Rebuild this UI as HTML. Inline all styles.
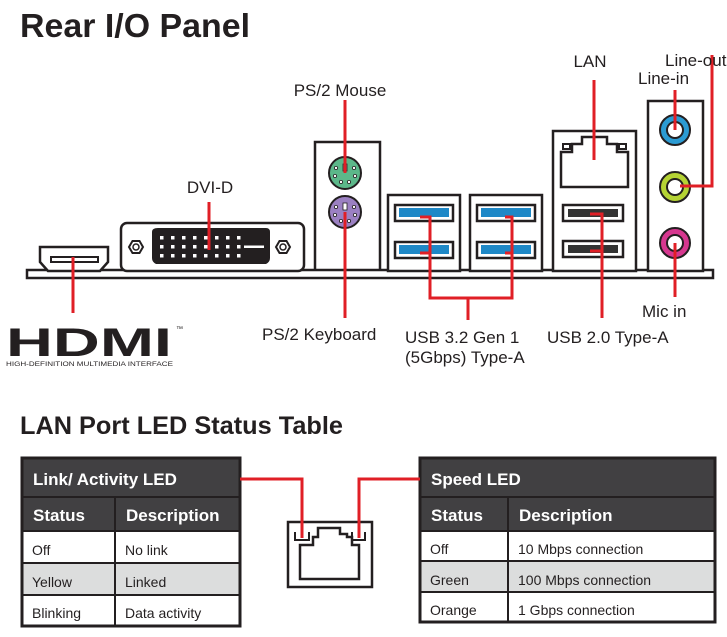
<!DOCTYPE html>
<html><head><meta charset="utf-8"><style>
html,body{margin:0;padding:0;background:#fff;}
svg{display:block;font-family:"Liberation Sans",sans-serif;}
</style></head><body>
<svg width="727" height="637" viewBox="0 0 727 637" xmlns="http://www.w3.org/2000/svg">
<text x="20" y="37" font-size="33" font-weight="bold" fill="#231f20" textLength="230" lengthAdjust="spacingAndGlyphs">Rear I/O Panel</text>

<rect x="27" y="270" width="686" height="8" fill="#fff" stroke="#231f20" stroke-width="2.5"/>

<path d="M40,247 H108 V262 L100,271 H48 L40,262 Z" fill="#fff" stroke="#231f20" stroke-width="2.5"/>
<rect x="51" y="257" width="47" height="5" fill="#fff" stroke="#231f20" stroke-width="2"/>
<line x1="73" y1="257" x2="73" y2="313" stroke="#e01f26" stroke-width="3"/>
<text x="6" y="356" font-size="40" font-weight="bold" fill="#231f20" textLength="166" lengthAdjust="spacingAndGlyphs">HDMI</text>
<text x="176" y="331" font-size="7" fill="#231f20">™</text>
<text x="6" y="366" font-size="6.3" fill="#231f20" textLength="167" lengthAdjust="spacingAndGlyphs">HIGH-DEFINITION MULTIMEDIA INTERFACE</text>

<rect x="121" y="223" width="183" height="48" rx="6" fill="#fff" stroke="#231f20" stroke-width="2.5"/>
<path d="M158,228 H266 Q270,228 270,232 V258 Q270,262 266,264 H156 Q152,262 152,258 V232 Q152,228 158,228 Z" fill="#231f20"/>
<g fill="#fff">
<rect x="160" y="236" width="3.5" height="3.5"/><rect x="171" y="236" width="3.5" height="3.5"/><rect x="182" y="236" width="3.5" height="3.5"/><rect x="193" y="236" width="3.5" height="3.5"/><rect x="204" y="236" width="3.5" height="3.5"/><rect x="215" y="236" width="3.5" height="3.5"/><rect x="226" y="236" width="3.5" height="3.5"/><rect x="237" y="236" width="3.5" height="3.5"/>
<rect x="160" y="245" width="3.5" height="3.5"/><rect x="171" y="245" width="3.5" height="3.5"/><rect x="182" y="245" width="3.5" height="3.5"/><rect x="193" y="245" width="3.5" height="3.5"/><rect x="204" y="245" width="3.5" height="3.5"/><rect x="215" y="245" width="3.5" height="3.5"/><rect x="226" y="245" width="3.5" height="3.5"/><rect x="237" y="245" width="3.5" height="3.5"/>
<rect x="160" y="254" width="3.5" height="3.5"/><rect x="171" y="254" width="3.5" height="3.5"/><rect x="182" y="254" width="3.5" height="3.5"/><rect x="193" y="254" width="3.5" height="3.5"/><rect x="204" y="254" width="3.5" height="3.5"/><rect x="215" y="254" width="3.5" height="3.5"/><rect x="226" y="254" width="3.5" height="3.5"/><rect x="237" y="254" width="3.5" height="3.5"/>
<rect x="244" y="245.5" width="20" height="2.5"/>
</g>
<polygon points="129,247 132.5,241 139.5,241 143,247 139.5,253 132.5,253" fill="#fff" stroke="#231f20" stroke-width="2"/>
<circle cx="136" cy="247" r="3" fill="none" stroke="#231f20" stroke-width="1.5"/>
<polygon points="276,247 279.5,241 286.5,241 290,247 286.5,253 279.5,253" fill="#fff" stroke="#231f20" stroke-width="2"/>
<circle cx="283" cy="247" r="3" fill="none" stroke="#231f20" stroke-width="1.5"/>
<line x1="209" y1="202" x2="209" y2="250" stroke="#e01f26" stroke-width="3"/>
<text x="210" y="193" font-size="17" fill="#231f20" text-anchor="middle">DVI-D</text>

<path d="M315,271 V142 H380 V271" fill="none" stroke="#231f20" stroke-width="2.5"/>
<circle cx="345" cy="173" r="16" fill="#5cb88a" stroke="#231f20" stroke-width="2"/>
<circle cx="345" cy="212" r="16" fill="#9b80c2" stroke="#231f20" stroke-width="2"/>
<g fill="#fff" stroke="#231f20" stroke-width="0.8">
<circle cx="336" cy="168" r="1.6"/><circle cx="354" cy="168" r="1.6"/><circle cx="335" cy="176" r="1.6"/><circle cx="355" cy="176" r="1.6"/><circle cx="341" cy="182" r="1.6"/><circle cx="349" cy="182" r="1.6"/>
<circle cx="336" cy="207" r="1.6"/><circle cx="354" cy="207" r="1.6"/><circle cx="335" cy="215" r="1.6"/><circle cx="355" cy="215" r="1.6"/><circle cx="341" cy="221" r="1.6"/><circle cx="349" cy="221" r="1.6"/>
<rect x="343" y="164" width="4" height="7"/><rect x="343" y="203" width="4" height="7"/>
</g>
<line x1="345" y1="100" x2="345" y2="173" stroke="#e01f26" stroke-width="3"/>
<line x1="345" y1="212" x2="345" y2="318" stroke="#e01f26" stroke-width="3"/>
<text x="340" y="96" font-size="17" fill="#231f20" text-anchor="middle">PS/2 Mouse</text>
<text x="262" y="340" font-size="17" fill="#231f20">PS/2 Keyboard</text>

<g fill="#fff" stroke="#231f20" stroke-width="2.5">
<rect x="388" y="195" width="72" height="76"/>
<rect x="470" y="195" width="72" height="76"/>
<rect x="395" y="205" width="58" height="16"/><rect x="395" y="242" width="58" height="16"/>
<rect x="477" y="205" width="58" height="16"/><rect x="477" y="242" width="58" height="16"/>
</g>
<g fill="#1e88c7">
<rect x="399" y="208" width="50" height="9"/><rect x="399" y="245" width="50" height="9"/>
<rect x="481" y="208" width="50" height="9"/><rect x="481" y="245" width="50" height="9"/>
</g>
<g fill="none" stroke="#e01f26" stroke-width="3">
<path d="M420,217 H430 V298 H512 V217 H505"/>
<path d="M420,253 H430"/><path d="M505,253 H512"/>
<path d="M468,298 V320"/>
</g>
<text x="405" y="343" font-size="17" fill="#231f20">USB 3.2 Gen 1</text>
<text x="405" y="363" font-size="17" fill="#231f20">(5Gbps) Type-A</text>

<rect x="553" y="131" width="83" height="140" fill="#fff" stroke="#231f20" stroke-width="2.5"/>
<path d="M561,187 V152 H572 V144 H582 V137 H607 V144 H617 V152 H628 V187 Z" fill="#fff" stroke="#231f20" stroke-width="2.5"/>
<rect x="563" y="144" width="7" height="5" fill="#fff" stroke="#231f20" stroke-width="2"/>
<rect x="619" y="144" width="7" height="5" fill="#fff" stroke="#231f20" stroke-width="2"/>
<rect x="563" y="205" width="60" height="16" fill="#fff" stroke="#231f20" stroke-width="2.5"/>
<rect x="563" y="241" width="60" height="16" fill="#fff" stroke="#231f20" stroke-width="2.5"/>
<rect x="568" y="209" width="50" height="8" fill="#333"/>
<rect x="568" y="245" width="50" height="8" fill="#333"/>
<line x1="594" y1="80" x2="594" y2="160" stroke="#e01f26" stroke-width="3"/>
<path d="M590,214 H602 V318 M590,251 H602" fill="none" stroke="#e01f26" stroke-width="3"/>
<text x="590" y="67" font-size="17" fill="#231f20" text-anchor="middle">LAN</text>
<text x="547" y="343" font-size="17" fill="#231f20">USB 2.0 Type-A</text>

<rect x="648" y="101" width="55" height="170" fill="#fff" stroke="#231f20" stroke-width="2.5"/>
<circle cx="675" cy="130" r="15" fill="#2b9bd3" stroke="#231f20" stroke-width="2"/>
<circle cx="675" cy="130" r="8" fill="#fff" stroke="#231f20" stroke-width="2"/>
<circle cx="675" cy="187" r="15" fill="#b5d334" stroke="#231f20" stroke-width="2"/>
<circle cx="675" cy="187" r="8" fill="#fff" stroke="#231f20" stroke-width="2"/>
<circle cx="675" cy="243" r="15" fill="#d6378f" stroke="#231f20" stroke-width="2"/>
<circle cx="675" cy="243" r="8" fill="#fff" stroke="#231f20" stroke-width="2"/>
<line x1="675" y1="90" x2="675" y2="130" stroke="#e01f26" stroke-width="3"/>
<path d="M712,55 V186 H680" fill="none" stroke="#e01f26" stroke-width="3"/>
<line x1="675" y1="243" x2="675" y2="297" stroke="#e01f26" stroke-width="3"/>
<text x="665" y="66" font-size="17" fill="#231f20">Line-out</text>
<text x="638" y="84" font-size="17" fill="#231f20">Line-in</text>
<text x="642" y="317" font-size="17" fill="#231f20">Mic in</text>

<text x="20" y="434" font-size="25" font-weight="bold" fill="#231f20" textLength="323" lengthAdjust="spacingAndGlyphs">LAN Port LED Status Table</text>

<g>
<rect x="22" y="458" width="218" height="39" fill="#414042"/>
<rect x="22" y="497" width="218" height="34" fill="#414042"/>
<rect x="22" y="531" width="218" height="95" fill="#fff"/>
<rect x="22" y="563" width="218" height="32" fill="#dcdddd"/>
<rect x="22" y="458" width="218" height="168" fill="none" stroke="#231f20" stroke-width="3"/>
<line x1="22" y1="497" x2="240" y2="497" stroke="#231f20" stroke-width="2"/>
<line x1="22" y1="531" x2="240" y2="531" stroke="#231f20" stroke-width="2"/>
<line x1="22" y1="563" x2="240" y2="563" stroke="#231f20" stroke-width="2"/>
<line x1="22" y1="595" x2="240" y2="595" stroke="#231f20" stroke-width="2"/>
<line x1="115" y1="497" x2="115" y2="626" stroke="#231f20" stroke-width="2"/>
<text x="33" y="485" font-size="17" font-weight="bold" fill="#fff">Link/ Activity LED</text>
<text x="33" y="521" font-size="17" font-weight="bold" fill="#fff">Status</text>
<text x="126" y="521" font-size="17" font-weight="bold" fill="#fff">Description</text>
<text x="32" y="555" font-size="14" fill="#231f20">Off</text>
<text x="125" y="555" font-size="14" fill="#231f20">No link</text>
<text x="32" y="587" font-size="14" fill="#231f20">Yellow</text>
<text x="125" y="587" font-size="14" fill="#231f20">Linked</text>
<text x="32" y="618" font-size="14" fill="#231f20">Blinking</text>
<text x="125" y="618" font-size="14" fill="#231f20">Data activity</text>
</g>

<g>
<rect x="420" y="458" width="295" height="39" fill="#414042"/>
<rect x="420" y="497" width="295" height="34" fill="#414042"/>
<rect x="420" y="531" width="295" height="91" fill="#fff"/>
<rect x="420" y="561" width="295" height="31" fill="#dcdddd"/>
<rect x="420" y="458" width="295" height="164" fill="none" stroke="#231f20" stroke-width="3"/>
<line x1="420" y1="497" x2="715" y2="497" stroke="#231f20" stroke-width="2"/>
<line x1="420" y1="531" x2="715" y2="531" stroke="#231f20" stroke-width="2"/>
<line x1="420" y1="561" x2="715" y2="561" stroke="#231f20" stroke-width="2"/>
<line x1="420" y1="592" x2="715" y2="592" stroke="#231f20" stroke-width="2"/>
<line x1="508" y1="497" x2="508" y2="622" stroke="#231f20" stroke-width="2"/>
<text x="431" y="485" font-size="17" font-weight="bold" fill="#fff">Speed LED</text>
<text x="431" y="521" font-size="17" font-weight="bold" fill="#fff">Status</text>
<text x="519" y="521" font-size="17" font-weight="bold" fill="#fff">Description</text>
<text x="430" y="554" font-size="14" fill="#231f20">Off</text>
<text x="518" y="554" font-size="14" fill="#231f20">10 Mbps connection</text>
<text x="430" y="585" font-size="14" fill="#231f20">Green</text>
<text x="518" y="585" font-size="14" fill="#231f20">100 Mbps connection</text>
<text x="430" y="615" font-size="14" fill="#231f20">Orange</text>
<text x="518" y="615" font-size="14" fill="#231f20">1 Gbps connection</text>
</g>

<rect x="288" y="522" width="84" height="65" fill="#fff" stroke="#231f20" stroke-width="2.5"/>
<path d="M300,579 V545 H313 V537 H318 V528 H340 V534 H347 V537 H352 V545 H359 V579 Z" fill="#fff" stroke="#231f20" stroke-width="2.5"/>
<path d="M295,532 V540 H309 V532" fill="none" stroke="#231f20" stroke-width="2"/>
<path d="M352,532 V540 H365 V532" fill="none" stroke="#231f20" stroke-width="2"/>
<path d="M240,479 H302 V538" fill="none" stroke="#e01f26" stroke-width="3"/>
<path d="M420,479 H359 V538" fill="none" stroke="#e01f26" stroke-width="3"/>
</svg>
</body></html>
